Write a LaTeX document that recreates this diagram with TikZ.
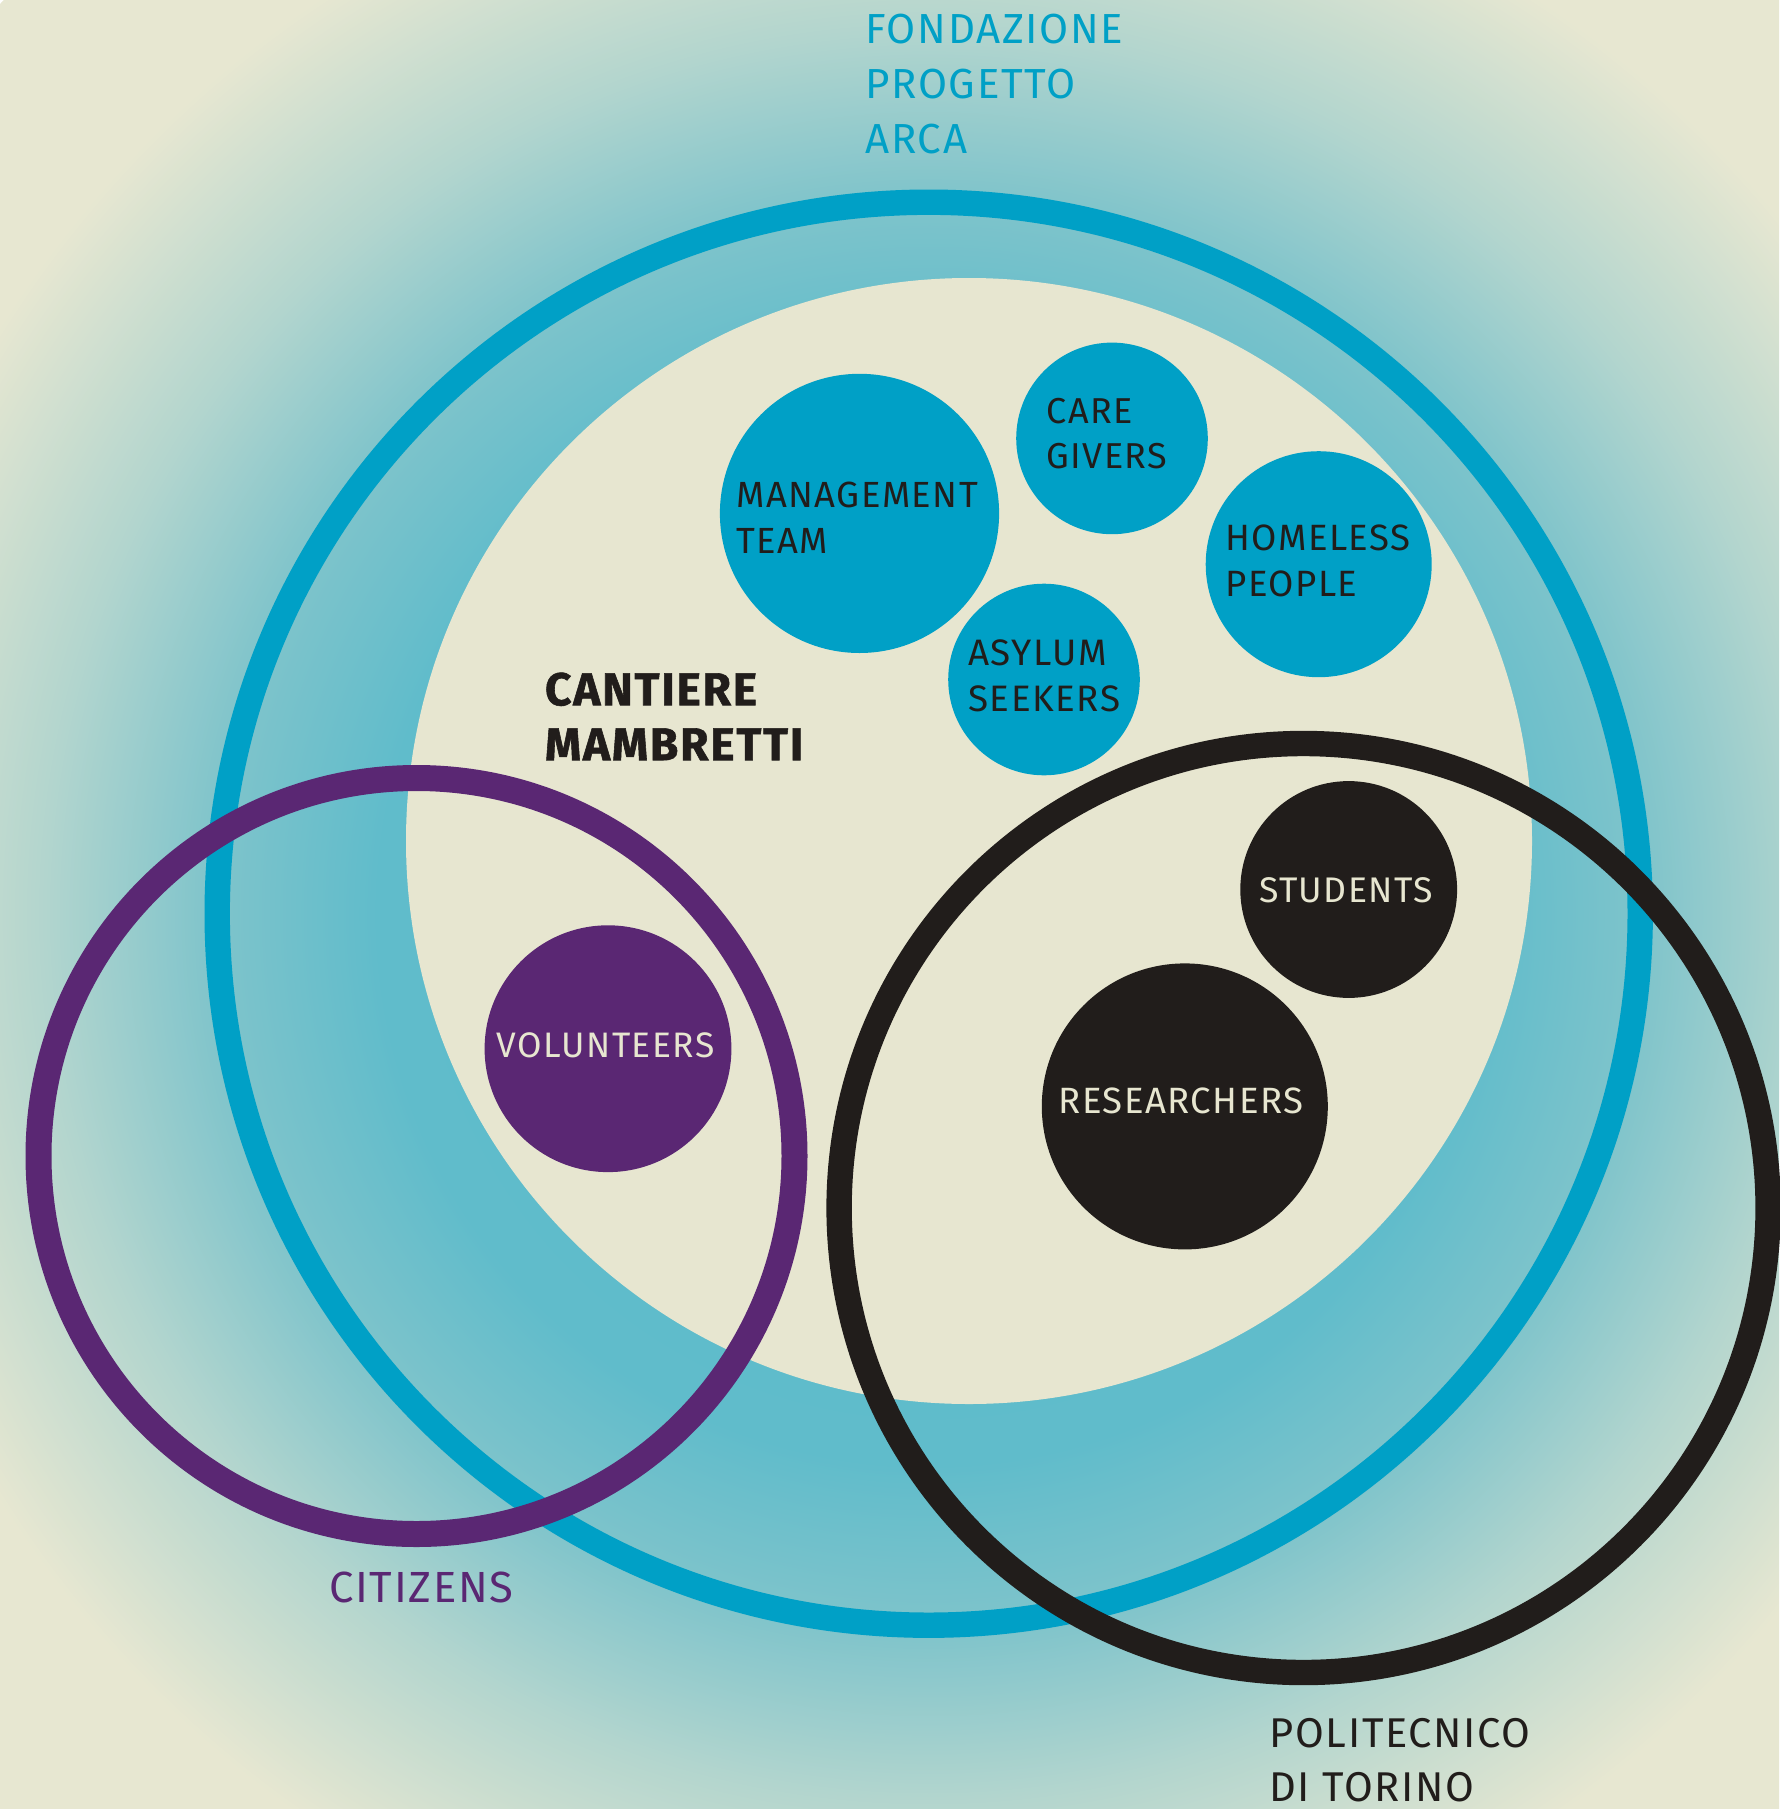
\documentclass[tikz,border=0pt]{standalone}
\usepackage{fontspec}
\setmainfont{Fira Sans}[LetterSpace=4]
\definecolor{arca}{HTML}{00A0C6}
\definecolor{cit}{HTML}{5A2773}
\definecolor{poli}{HTML}{211D1B}
\definecolor{cream}{HTML}{E7E6D0}
\definecolor{bgA}{HTML}{5ABACB}
\definecolor{bgB}{HTML}{60BCCB}
\definecolor{bgC}{HTML}{80C4CB}
\definecolor{bgD}{HTML}{B2D5CE}
\definecolor{bgE}{HTML}{E7E7D1}
\pgfdeclareradialshading{bgshade}{\pgfpoint{0bp}{0bp}}{color(0bp)=(bgA); color(10.6bp)=(bgB); color(13.85bp)=(bgC); color(17bp)=(bgD); color(21.15bp)=(bgE); color(25bp)=(bgE); color(50bp)=(bgE)}
\tikzset{
  ring/.style={circle, draw, inner sep=0pt, line width=12.7pt},
  disc/.style={circle, inner sep=0pt, draw=none},
  txt/.style={inner sep=0pt, align=left, anchor=west},
  ctxt/.style={inner sep=0pt, align=center, text=cream},
}
\begin{document}
\begin{tikzpicture}[x=0.5pt,y=-0.5pt]
\useasboundingbox (0,0) rectangle (1779,1809);
\begin{scope}
\clip (0,0) rectangle (1779,1809);
\shade[shading=bgshade] (928.7,913.7) circle (1300);
\end{scope}
% Fondazione ring and Cantiere
\node[ring, draw=arca, minimum size=711.5pt] (arca) at (928.7,913.7) {};
\node[disc, fill=cream, minimum size=563pt] (cantiere) at (969,841) {};
% inner groups
\node[disc, fill=arca, minimum size=139.6pt] (mgmt) at (859.5,513.4) {};
\node[disc, fill=arca, minimum size=95.8pt] (care) at (1112,438.4) {};
\node[disc, fill=arca, minimum size=113pt] (home) at (1318.7,564.2) {};
\node[disc, fill=arca, minimum size=95.8pt] (asyl) at (1044,679.5) {};
\node[disc, fill=poli, minimum size=108.4pt] (stud) at (1348.7,889.5) {};
\node[disc, fill=poli, minimum size=143pt] (res) at (1184.8,1106.4) {};
\node[disc, fill=cit, minimum size=123.4pt] (vol) at (608,1048.7) {};
% outer rings
\node[ring, draw=cit, line width=13pt, minimum size=378pt] (citz) at (416.5,1156) {};
\node[ring, draw=poli, minimum size=464.5pt] (polito) at (1303.6,1208) {};
% texts
\node[txt, text=arca, font=\fontsize{21}{27.5}\selectfont] (tarca) at (865,84) {FONDAZIONE\\PROGETTO\\ARCA};
\node[txt, text=poli, font=\fontsize{23}{27.5}\selectfont\bfseries\addfontfeatures{FakeBold=1.2}] (tcant) at (544.6,716.4) {CANTIERE\\MAMBRETTI};
\node[txt, text=poli, font=\fontsize{18.2}{23}\selectfont] (tmgmt) at (736,518) {MANAGEMENT\\TEAM};
\node[txt, text=poli, font=\fontsize{18}{22.5}\selectfont] (tcare) at (1046,433.2) {CARE\\GIVERS};
\node[txt, text=poli, font=\fontsize{18.3}{23}\selectfont] (thome) at (1225,560.7) {HOMELESS\\PEOPLE};
\node[txt, text=poli, font=\fontsize{18.4}{23}\selectfont] (tasyl) at (968,676) {ASYLUM\\SEEKERS};
\node[ctxt, font=\fontsize{17.8}{22}\selectfont] (tstud) at (1346,890.7) {STUDENTS};
\node[ctxt, font=\fontsize{18.3}{22}\selectfont] (tres) at (1181,1100.6) {RESEARCHERS};
\node[ctxt, font=\fontsize{17.7}{22}\selectfont] (tvol) at (605.7,1045) {VOLUNTEERS};
\node[txt, text=cit, font=\fontsize{21.8}{27}\selectfont] (tcit) at (328.8,1587.5) {CITIZENS};
\node[txt, text=poli, font=\fontsize{20.8}{27}\selectfont] (tpoli) at (1269,1760) {POLITECNICO\\DI TORINO};
\end{tikzpicture}
\end{document}
